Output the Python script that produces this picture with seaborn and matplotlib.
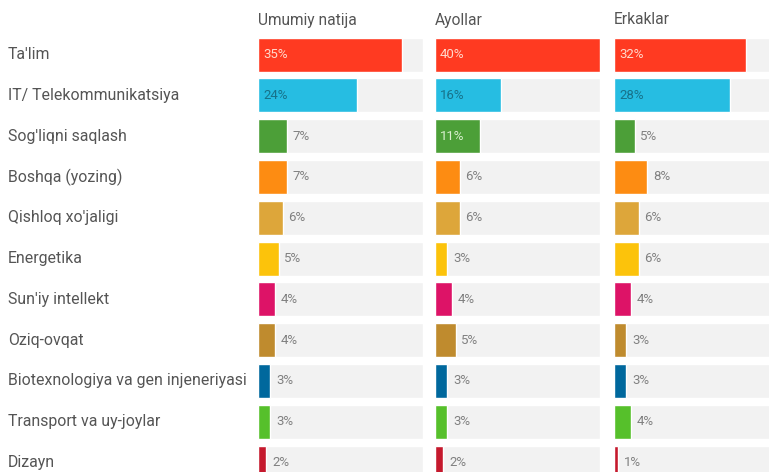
import matplotlib
matplotlib.use('Agg')
import matplotlib.pyplot as plt
import matplotlib.transforms as mtransforms
import seaborn as sns
import pandas as pd

# categories (top to bottom)
categories = [
    "Ta'lim",
    "IT/ Telekommunikatsiya",
    "Sog'liqni saqlash",
    "Boshqa (yozing)",
    "Qishloq xo'jaligi",
    "Energetika",
    "Sun'iy intellekt",
    "Oziq-ovqat",
    "Biotexnologiya va gen injeneriyasi",
    "Transport va uy-joylar",
    "Dizayn",
]

panel_titles = ["Umumiy natija", "Ayollar", "Erkaklar"]
umumiy = [35, 24, 7, 7, 6, 5, 4, 4, 3, 3, 2]
ayollar = [40, 16, 11, 6, 6, 3, 4, 5, 3, 3, 2]
erkaklar = [32, 28, 5, 8, 6, 6, 4, 3, 3, 4, 1]

bar_colors = ["#FF3A21", "#26BDE2", "#4C9F38", "#FD8C12", "#DDA63A", "#FCC30B",
              "#DD1367", "#BF8B2E", "#00689D", "#56C02B", "#C5192D"]
# label colour for values drawn inside the bar
inside_text = {"#FF3A21": "#FFD9CC", "#26BDE2": "#17728A", "#4C9F38": "#D9F0CF"}

sns.set_theme(style="white")
plt.rcParams['font.family'] = ['Roboto', 'DejaVu Sans']

W, H = 769, 472
fig = plt.figure(figsize=(W / 100, H / 100), dpi=100)

row_px = 40.8
first_center = 54.6
n = len(categories)
top_px = first_center - row_px / 2
height_px = row_px * n
panel_left = [258, 435, 614]
panel_w = 165
xmax = 40

for i, (title, vals) in enumerate(zip(panel_titles, [umumiy, ayollar, erkaklar])):
    ax = fig.add_axes([panel_left[i] / W, (H - top_px - height_px) / H,
                       panel_w / W, height_px / H])
    df = pd.DataFrame({"cat": categories, "val": vals})
    sns.barplot(x=[xmax] * n, y=categories, color="#F2F2F2", width=0.83,
                saturation=1, ax=ax)
    sns.barplot(data=df, x="val", y="cat", hue="cat", palette=bar_colors,
                width=0.83, saturation=1, legend=False, ax=ax)
    ax.set_xlim(0, xmax)
    ax.set_ylim(n - 0.5, -0.5)
    ax.axis("off")
    for j, v in enumerate(vals):
        if v >= 10:
            ax.text(1.2, j, f"{v}%", va="center", ha="left", fontsize=9.5,
                    color=inside_text.get(bar_colors[j], "white"))
        else:
            ax.text(v + 1.4, j, f"{v}%", va="center", ha="left", fontsize=9.5,
                    color="#808080")
    fig.text(panel_left[i] / W, 1 - 20 / H, title, ha="left", va="center",
             fontsize=11.2, color="#555555")
    if i == 0:
        trans = mtransforms.blended_transform_factory(fig.transFigure, ax.transData)
        for j, c in enumerate(categories):
            ax.text(8 / W, j, c, transform=trans, ha="left", va="center",
                    fontsize=11.4, color="#555555", clip_on=False)

fig.savefig("out.png", dpi=100)
plt.close()
